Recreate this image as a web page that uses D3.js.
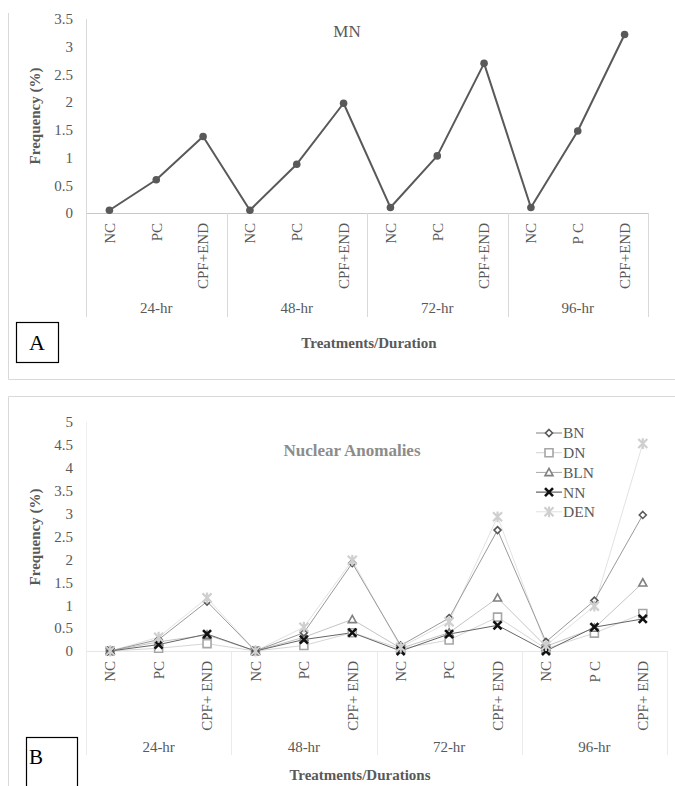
<!DOCTYPE html>
<html>
<head>
<meta charset="utf-8">
<script src="https://cdn.jsdelivr.net/npm/d3@7"></script>
<style>
html,body{margin:0;padding:0;background:#fff;}
svg{display:block;font-family:"Liberation Serif","Times New Roman",serif;}
</style>
</head>
<body>
<svg id="c" width="675" height="786"></svg>
<script>
// ---------- DATA ----------
const groups = ["24-hr", "48-hr", "72-hr", "96-hr"];
const treatmentsA = ["NC", "PC", "CPF+END", "NC", "PC", "CPF+END", "NC", "PC", "CPF+END", "NC", "P C", "CPF+END"];
const treatmentsB = ["NC", "PC", "CPF+ END", "NC", "PC", "CPF+ END", "NC", "PC", "CPF+ END", "NC", "P C", "CPF+ END"];
const mnValues = [0.05, 0.6, 1.38, 0.05, 0.88, 1.98, 0.1, 1.03, 2.7, 0.1, 1.48, 3.22];
const yTicksA = [0, 0.5, 1, 1.5, 2, 2.5, 3, 3.5];
const yTicksB = [0, 0.5, 1, 1.5, 2, 2.5, 3, 3.5, 4, 4.5, 5];
const seriesNames = ["BN", "DN", "BLN", "NN", "DEN"];
const bnValues  = [0, 0.25, 1.08, 0, 0.4, 1.92, 0.12, 0.72, 2.64, 0.2, 1.1, 2.97];
const dnValues  = [0, 0.06, 0.16, 0, 0.12, 0.4, 0.05, 0.24, 0.74, 0.05, 0.39, 0.82];
const blnValues = [0, 0.2, 0.35, 0, 0.3, 0.69, 0.06, 0.4, 1.16, 0.1, 0.5, 1.49];
const nnValues  = [0, 0.14, 0.37, 0, 0.25, 0.4, 0, 0.37, 0.56, 0, 0.52, 0.7];
const denValues = [0, 0.3, 1.16, 0, 0.52, 1.98, 0.08, 0.64, 2.93, 0.12, 0.98, 4.53];

// ---------- STYLES ----------
const TXT = "#595959";
const seriesStyle = {
  BN:  {values: bnValues,  line: "#9a9a9a", lw: 1, mk: "diamond",  mstroke: "#595959", mfill: "#fff", msw: 1.6, size: 7,  legLine: "#7f7f7f"},
  DN:  {values: dnValues,  line: "#d6d6d6", lw: 1, mk: "square",   mstroke: "#a6a6a6", mfill: "#fff", msw: 1.6, size: 8,  legLine: "#d0d0d0"},
  BLN: {values: blnValues, line: "#c4c4c4", lw: 1, mk: "triangle", mstroke: "#808080", mfill: "#fff", msw: 1.6, size: 8,  legLine: "#a6a6a6"},
  NN:  {values: nnValues,  line: "#666666", lw: 1, mk: "x",        mstroke: "#111111", mfill: "none", msw: 2.6, size: 8,  legLine: "#404040"},
  DEN: {values: denValues, line: "#e2e2e2", lw: 1, mk: "star",     mstroke: "#cfcfcf", mfill: "none", msw: 2.2, size: 9,  legLine: "#e0e0e0"}
};

const svg = d3.select("#c");

// panel frames
svg.append("path").attr("d", "M8.5,13 V379.5 H675").attr("fill", "none").attr("stroke", "#d9d9d9").attr("stroke-width", 1);
svg.append("path").attr("d", "M8.5,786 V396.5 H675").attr("fill", "none").attr("stroke", "#d9d9d9").attr("stroke-width", 1);

function markerPath(type, s) {
  const h = s / 2;
  switch (type) {
    case "diamond": return `M0,${-h}L${h},0L0,${h}L${-h},0Z`;
    case "square": return `M${-h},${-h}H${h}V${h}H${-h}Z`;
    case "triangle": return `M0,${-h}L${h},${h * 0.8}L${-h},${h * 0.8}Z`;
    case "x": return `M${-h},${-h}L${h},${h}M${-h},${h}L${h},${-h}`;
    case "star": return `M${-h},${-h}L${h},${h}M${-h},${h}L${h},${-h}M0,${-h * 1.2}V${h * 1.2}`;
  }
}

function drawCategoryAxis(g, x, y0, labels, cfg) {
  const [x0, x1] = x.range();
  const bw = x.bandwidth();
  // baseline
  g.append("line").attr("x1", x0).attr("x2", x1).attr("y1", y0 + 0.5).attr("y2", y0 + 0.5)
    .attr("stroke", cfg.baseColor).attr("stroke-width", 1);
  // group separators
  for (let k = 0; k <= groups.length; k++) {
    const xx = k < groups.length ? x(k * 3) : x1;
    g.append("line").attr("x1", Math.round(xx) + 0.5).attr("x2", Math.round(xx) + 0.5)
      .attr("y1", y0).attr("y2", cfg.sepBottom).attr("stroke", cfg.sepColor).attr("stroke-width", 1);
  }
  // treatment labels
  g.selectAll("text.cat").data(labels).join("text").attr("class", "cat")
    .attr("transform", (d, i) => `translate(${x(i) + bw / 2},${y0 + cfg.labelGap}) rotate(-90)`)
    .attr("text-anchor", "end").attr("dy", "0.35em")
    .attr("font-size", cfg.catSize).attr("fill", TXT).text(d => d);
  // group labels
  g.selectAll("text.grp").data(groups).join("text").attr("class", "grp")
    .attr("x", (d, k) => x(k * 3) + bw * 1.5).attr("y", cfg.groupY)
    .attr("text-anchor", "middle").attr("font-size", cfg.catSize).attr("fill", TXT).text(d => d);
}

function drawYAxis(g, y, ticks, xAxis, lineColor) {
  const ax = d3.axisLeft(y).tickValues(ticks).tickSize(0).tickPadding(13).tickFormat(d => String(d));
  const a = g.append("g").attr("transform", `translate(${xAxis},0)`).call(ax);
  a.select(".domain").remove();
  a.selectAll("text").attr("font-size", 15).attr("fill", TXT).attr("font-family", "Liberation Serif, serif");
  g.append("line").attr("x1", xAxis + 0.5).attr("x2", xAxis + 0.5)
    .attr("y1", y.range()[1]).attr("y2", y.range()[0]).attr("stroke", lineColor).attr("stroke-width", 1);
}

// ---------- PANEL A ----------
{
  const g = svg.append("g");
  const x = d3.scaleBand().domain(d3.range(12)).range([86, 648]).padding(0);
  const y = d3.scaleLinear().domain([0, 3.5]).range([213, 19]);
  const bw = x.bandwidth();
  drawYAxis(g, y, yTicksA, 86, "#d9d9d9");
  drawCategoryAxis(g, x, 213, treatmentsA, {baseColor: "#c8c8c8", sepColor: "#d9d9d9", sepBottom: 317, labelGap: 10, catSize: 15, groupY: 313});

  const line = d3.line().x((d, i) => x(i) + bw / 2).y(d => y(d));
  g.append("path").datum(mnValues).attr("d", line).attr("fill", "none")
    .attr("stroke", "#595959").attr("stroke-width", 2).attr("stroke-linejoin", "round");
  g.selectAll("circle.mn").data(mnValues).join("circle").attr("class", "mn")
    .attr("cx", (d, i) => x(i) + bw / 2).attr("cy", d => y(d)).attr("r", 3.8).attr("fill", "#595959");

  g.append("text").attr("x", 347).attr("y", 37).attr("text-anchor", "middle")
    .attr("font-size", 17).attr("fill", TXT).text("MN");
  g.append("text").attr("transform", "translate(35,116) rotate(-90)").attr("text-anchor", "middle").attr("dy", "0.35em")
    .attr("font-size", 15).attr("font-weight", "bold").attr("fill", TXT).text("Frequency (%)");
  g.append("text").attr("x", 369).attr("y", 348).attr("text-anchor", "middle")
    .attr("font-size", 15).attr("font-weight", "bold").attr("fill", TXT).text("Treatments/Duration");
  g.append("rect").attr("x", 16.5).attr("y", 322.5).attr("width", 42).attr("height", 40)
    .attr("fill", "#fff").attr("stroke", "#000").attr("stroke-width", 1.2);
  g.append("text").attr("x", 37).attr("y", 350).attr("text-anchor", "middle")
    .attr("font-size", 22).attr("fill", "#000").text("A");
}

// ---------- PANEL B ----------
{
  const g = svg.append("g");
  const x = d3.scaleBand().domain(d3.range(12)).range([86, 667]).padding(0);
  const y = d3.scaleLinear().domain([0, 5]).range([651, 422]);
  const bw = x.bandwidth();
  drawYAxis(g, y, yTicksB, 86, "#eeeeee");
  drawCategoryAxis(g, x, 651, treatmentsB, {baseColor: "#e6e6e6", sepColor: "#ebebeb", sepBottom: 755, labelGap: 10, catSize: 15, groupY: 752});

  const line = d3.line().x((d, i) => x(i) + bw / 2).y(d => y(d));
  // draw lines first (back to front: DEN, DN, BLN, BN, NN)
  const order = ["DEN", "DN", "BLN", "BN", "NN"];
  order.forEach(name => {
    const s = seriesStyle[name];
    g.append("path").datum(s.values).attr("d", line).attr("fill", "none")
      .attr("stroke", s.line).attr("stroke-width", s.lw);
  });
  ["DN", "BLN", "BN", "NN", "DEN"].forEach(name => {
    const s = seriesStyle[name];
    g.selectAll(null).data(s.values).join("path")
      .attr("transform", (d, i) => `translate(${x(i) + bw / 2},${y(d)})`)
      .attr("d", markerPath(s.mk, s.size)).attr("fill", s.mfill)
      .attr("stroke", s.mstroke).attr("stroke-width", s.msw);
  });

  // legend
  const leg = g.append("g");
  seriesNames.forEach((name, k) => {
    const s = seriesStyle[name];
    const yy = 433 + k * 19.7;
    leg.append("line").attr("x1", 536).attr("x2", 562).attr("y1", yy).attr("y2", yy)
      .attr("stroke", s.legLine).attr("stroke-width", 1);
    leg.append("path").attr("transform", `translate(549,${yy})`).attr("d", markerPath(s.mk, s.size))
      .attr("fill", s.mfill === "none" ? "none" : "#fff").attr("stroke", s.mstroke).attr("stroke-width", s.msw);
    leg.append("text").attr("x", 563).attr("y", yy).attr("dy", "0.35em")
      .attr("font-size", 15.5).attr("fill", TXT).text(name);
  });

  g.append("text").attr("x", 352).attr("y", 456).attr("text-anchor", "middle")
    .attr("font-size", 17).attr("font-weight", "bold").attr("fill", "#8c8c8c").text("Nuclear Anomalies");
  g.append("text").attr("transform", "translate(35,537) rotate(-90)").attr("text-anchor", "middle").attr("dy", "0.35em")
    .attr("font-size", 15).attr("font-weight", "bold").attr("fill", TXT).text("Frequency (%)");
  g.append("text").attr("x", 360).attr("y", 780).attr("text-anchor", "middle")
    .attr("font-size", 15).attr("font-weight", "bold").attr("fill", TXT).text("Treatments/Durations");
  g.append("rect").attr("x", 26.5).attr("y", 737.5).attr("width", 51).attr("height", 60)
    .attr("fill", "#fff").attr("stroke", "#000").attr("stroke-width", 1.2);
  g.append("text").attr("x", 29).attr("y", 764).attr("font-size", 21).attr("fill", "#000").text("B");
}
</script>
</body>
</html>
